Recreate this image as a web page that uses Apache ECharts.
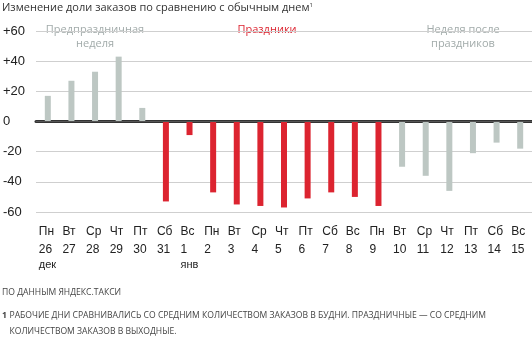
<!DOCTYPE html>
<html>
<head>
<meta charset="utf-8">
<script src="https://cdn.jsdelivr.net/npm/echarts@6/dist/echarts.min.js"></script>
<style>
  body { margin: 0; background: #fff; }
  #main { width: 532px; height: 337px; }
</style>
</head>
<body>
<div id="main"></div>
<script>
  // дни недели, числа, месяцы
  var weekDays = ['Пн','Вт','Ср','Чт','Пт','Сб','Вс','Пн','Вт','Ср','Чт','Пт','Сб','Вс','Пн','Вт','Ср','Чт','Пт','Сб','Вс'];
  var dates = ['26','27','28','29','30','31','1','2','3','4','5','6','7','8','9','10','11','12','13','14','15'];
  var months = ['дек','','','','','','янв','','','','','','','','','','','','','',''];
  // изменение доли заказов, %
  var beforeVals = [17, 27, 33, 43, 9];
  var holidayVals = [-53, -9, -47, -55, -56, -57, -51, -47, -50, -56];
  var afterVals = [-30, -36, -46, -21, -14, -18];
  var yTicks = [-60, -40, -20, 0, 20, 40, 60];

  var grayColor = '#bdc7c3';
  var redColor = '#dc2430';

  var barData = [];
  beforeVals.forEach(function (v) { barData.push({value: v, itemStyle: {color: grayColor}}); });
  holidayVals.forEach(function (v) { barData.push({value: v, itemStyle: {color: redColor}}); });
  afterVals.forEach(function (v) { barData.push({value: v, itemStyle: {color: grayColor}}); });

  var myChart = echarts.init(document.getElementById('main'));
  var font = 'Open Sans';
  myChart.setOption({
    animation: false,
    textStyle: {fontFamily: font},
    grid: {left: 35, right: 0, top: 31, bottom: 125},
    xAxis: {
      type: 'category',
      data: weekDays,
      axisTick: {show: false},
      axisLine: {lineStyle: {color: '#333', width: 3}},
      axisLabel: {
        interval: 0,
        margin: 9,
        formatter: function (v, i) {
          var s = '{d|' + v + '}\n{n|' + dates[i] + '}';
          if (months[i]) s += '\n{m|' + months[i] + '}';
          return s;
        },
        rich: {
          d: {fontFamily: 'Liberation Sans', fontSize: 12, color: '#222', width: 18, align: 'left', height: 21},
          n: {fontFamily: 'Liberation Sans', fontSize: 12, color: '#222', width: 18, align: 'left', height: 16},
          m: {fontFamily: 'Liberation Sans', fontSize: 11, color: '#222', width: 18, align: 'left', height: 13}
        },
        verticalAlign: 'top'
      }
    },
    yAxis: {
      type: 'value',
      min: -60,
      max: 60,
      interval: 20,
      axisLine: {show: false},
      axisTick: {show: false},
      splitLine: {lineStyle: {color: '#cfcfcf'}},
      axisLabel: {
        align: 'left',
        margin: 33,
        fontFamily: 'Liberation Sans',
        fontSize: 13,
        color: '#222',
        padding: [0, 0, 12, 0],
        formatter: function (v) {
          return yTicks.indexOf(v) >= 0 && v > 0 ? '+' + v : '' + v;
        }
      }
    },
    series: [{
      type: 'bar',
      data: barData,
      barWidth: 6,
      markLine: {
        silent: true,
        symbol: 'none',
        label: {show: false},
        lineStyle: {color: '#555', type: 'solid', width: 1},
        data: [{yAxis: 0}]
      }
    }],
    graphic: [
      {type: 'text', left: 2, top: 2, style: {
        text: '{t|Изменение доли заказов по сравнению с обычным днем}{s|1}',
        rich: {
          t: {fontFamily: font, fontSize: 11, fill: '#333'},
          s: {fontFamily: font, fontSize: 6, fill: '#333', verticalAlign: 'top', padding: [0, 0, 6, 0]}
        }
      }},
      {type: 'text', x: 95, y: 23, style: {text: 'Предпраздничная\nнеделя', fontFamily: font, fontSize: 11, fill: '#a2abaa', align: 'center', lineHeight: 14}},
      {type: 'text', x: 267, y: 23, style: {text: 'Праздники', fontFamily: font, fontSize: 11, fill: redColor, align: 'center', lineHeight: 14}},
      {type: 'text', x: 463, y: 23, style: {text: 'Неделя после\nпраздников', fontFamily: font, fontSize: 11, fill: '#a2abaa', align: 'center', lineHeight: 14}},
      {type: 'text', x: 2, y: 293, style: {text: 'ПО ДАННЫМ ЯНДЕКС.ТАКСИ', fontFamily: font, fontSize: 8.6, fill: '#444', verticalAlign: 'middle'}},
      {type: 'text', x: 2, y: 316, style: {text: '1', fontFamily: font, fontSize: 8.6, fontWeight: 'bold', fill: '#444', verticalAlign: 'middle'}},
      {type: 'text', x: 9.5, y: 316, style: {text: 'РАБОЧИЕ ДНИ СРАВНИВАЛИСЬ СО СРЕДНИМ КОЛИЧЕСТВОМ ЗАКАЗОВ В БУДНИ. ПРАЗДНИЧНЫЕ — СО СРЕДНИМ', fontFamily: font, fontSize: 8.6, fill: '#444', verticalAlign: 'middle'}},
      {type: 'text', x: 9.5, y: 332, style: {text: 'КОЛИЧЕСТВОМ ЗАКАЗОВ В ВЫХОДНЫЕ.', fontFamily: font, fontSize: 8.6, fill: '#444', verticalAlign: 'middle'}}
    ]
  });
</script>
</body>
</html>
